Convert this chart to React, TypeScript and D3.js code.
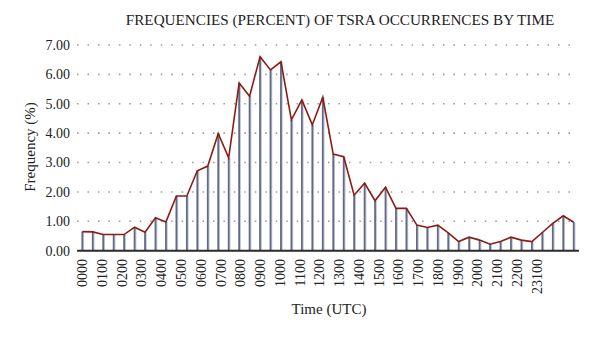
import React from "react";
import * as d3 from "d3";

const tickLabels = ["0000","0100","0200","0300","0400","0500","0600","0700","0800","0900","1000","1100","1200","1300","1400","1500","1600","1700","1800","1900","2000","2100","2200","23100"];

const slots = d3.range(48).map((i) => `${String(Math.floor(i / 2)).padStart(2, "0")}${i % 2 ? "30" : "00"}`);

const frequency = [
  0.65, 0.64, 0.55, 0.55, 0.55, 0.80, 0.63, 1.12, 0.98, 1.86,
  1.86, 2.72, 2.88, 3.99, 3.16, 5.71, 5.26, 6.60, 6.15, 6.43,
  4.45, 5.13, 4.28, 5.22, 3.29, 3.20, 1.89, 2.30, 1.70, 2.16,
  1.44, 1.44, 0.87, 0.79, 0.87, 0.61, 0.31, 0.46, 0.36, 0.22,
  0.31, 0.46, 0.36, 0.31, 0.62, 0.93, 1.19, 0.97,
];

const yTicks = [0, 1, 2, 3, 4, 5, 6, 7];

const W = 600, H = 337;
const FONT = "'Liberation Serif', 'Times New Roman', serif";

export default function App() {
  const x = d3.scalePoint<string>().domain(slots).range([82.3, 573.7]);
  const xLab = d3.scalePoint<string>().domain(tickLabels).range([82.3, 536.7]);
  const y = d3.scaleLinear().domain([0, 7]).range([250.7, 45]);
  const step = x.step();
  const gridX0 = 82.3 - step / 2;
  const gridX1 = 579;

  const line = d3
    .line<number>()
    .x((_, i) => x(slots[i]) as number)
    .y((d) => y(d));

  return (
    <svg width={W} height={H} style={{ position: "absolute", left: 0, top: 0, background: "#fff" }}>
      <rect width={W} height={H} fill="#fff" />
      <text x={340} y={25} textAnchor="middle" fontFamily={FONT} fontSize={15.2} fill="#222">
        FREQUENCIES (PERCENT) OF TSRA OCCURRENCES BY TIME
      </text>
      {yTicks.filter((t) => t > 0).map((t) => (
        <line key={t} x1={gridX0} x2={gridX1} y1={y(t)} y2={y(t)} stroke="#9a9a9a" strokeWidth={1.6} strokeDasharray={`1.5,${step - 1.5}`} />
      ))}
      {yTicks.map((t) => (
        <text key={t} x={70} y={y(t)} dy="0.35em" textAnchor="end" fontFamily={FONT} fontSize={14} fill="#222">
          {t.toFixed(2)}
        </text>
      ))}
      {frequency.map((v, i) => (
        <g key={i}>
          <line x1={(x(slots[i]) as number) + 1.2} x2={(x(slots[i]) as number) + 1.2} y1={y(0)} y2={y(v)} stroke="#c4c8d6" strokeWidth={1.2} />
          <line x1={x(slots[i])} x2={x(slots[i])} y1={y(0)} y2={y(v)} stroke="#636a88" strokeWidth={1.8} />
        </g>
      ))}
      <path d={line(frequency) || ""} fill="none" stroke="#8a1c14" strokeWidth={1.6} strokeLinejoin="miter" />
      <line x1={77} x2={579} y1={y(0)} y2={y(0)} stroke="#2a2a2a" strokeWidth={2} />
      {tickLabels.map((l) => (
        <text key={l} transform={`translate(${xLab(l)},${259}) rotate(-90)`} dy="0.35em" textAnchor="end" fontFamily={FONT} fontSize={14} fill="#222">
          {l}
        </text>
      ))}
      <text x={329} y={314} textAnchor="middle" fontFamily={FONT} fontSize={15} fill="#222">
        Time (UTC)
      </text>
      <text transform={`translate(35,147) rotate(-90)`} textAnchor="middle" fontFamily={FONT} fontSize={15} fill="#222">
        Frequency (%)
      </text>
    </svg>
  );
}
